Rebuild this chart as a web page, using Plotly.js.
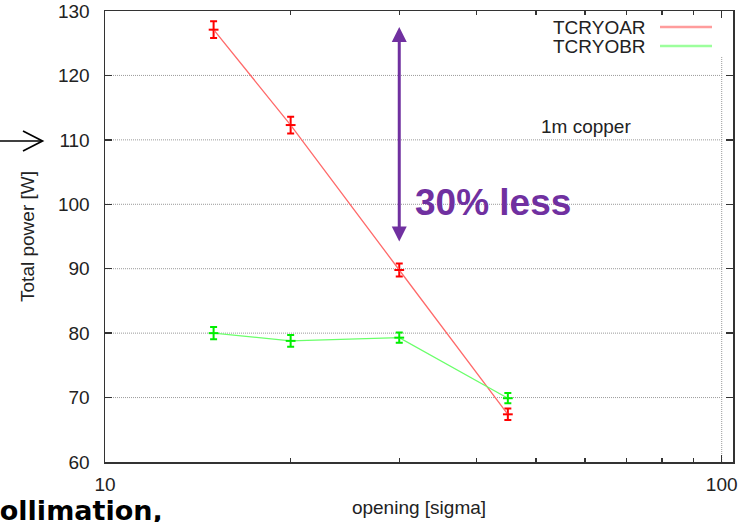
<!DOCTYPE html>
<html>
<head>
<meta charset="utf-8">
<script src="https://cdn.plot.ly/plotly-3.0.1.min.js"></script>
<style>
  html, body { margin: 0; padding: 0; background: #fff; }
  #chart { width: 755px; height: 522px; }
</style>
</head>
<body>
<div id="chart"></div>
<script>
// Collimator opening scan: total deposited power versus opening
const openings = [15, 20, 30, 45];              // opening [sigma]
const seriesNames = ['TCRYOAR', 'TCRYOBR'];
const tcryoarPower = [127.1, 112.3, 89.8, 67.4]; // Total power [W]
const tcryoarErr = [1.3, 1.3, 1.0, 0.9];
const tcryobrPower = [80.0, 78.8, 79.3, 69.9];
const tcryobrErr = [0.95, 0.9, 0.8, 0.8];

const xTickVals = [10, 100];
const xTickText = ['10', '100'];
const xMinorVals = [20, 30, 40, 50, 60, 70, 80, 90];
const yTickVals = [60, 70, 80, 90, 100, 110, 120, 130];

const reductionLabel = '30% less';
const reductionFrom = 127.5;
const reductionTo = 94;
const reductionAt = 30;
const noteLabel = '1m copper';

// frame geometry
const W = 755, H = 522;
const M = { l: 105, r: 22, t: 11, b: 60 };
const plotW = W - M.l - M.r, plotH = H - M.t - M.b;
const xLogRange = [1, 2.0183];
const yRange = [60, 130];
const px = x => (x - M.l) / plotW;               // page pixel -> paper x
const py = y => (M.t + plotH - y) / plotH;       // page pixel -> paper y
const paperOfX = v => (Math.log10(v) - xLogRange[0]) / (xLogRange[1] - xLogRange[0]);

const FONT = 'Liberation Sans, Arial, sans-serif';
const INK = '#333';
const TXT = '#222';
const redLine = '#ff6a6a', redBar = '#ff0000', redKey = '#ff9c9c';
const greenLine = '#6aff6a', greenBar = '#00ee00', greenKey = '#9cff9c';
const purple = '#7030a0';

function series(name, y, err, lineColor, barColor) {
  return {
    type: 'scatter', mode: 'lines+markers', name: name,
    x: openings, y: y,
    line: { color: lineColor, width: 1.3 },
    marker: { symbol: 'line-ew', size: 7, color: barColor, line: { color: barColor, width: 2 } },
    error_y: { type: 'data', array: err, visible: true, color: barColor, thickness: 2, width: 3.5 },
    showlegend: false, hoverinfo: 'x+y'
  };
}

const data = [
  series(seriesNames[0], tcryoarPower, tcryoarErr, redLine, redBar),
  series(seriesNames[1], tcryobrPower, tcryobrErr, greenLine, greenBar)
];

const gridDash = '1px,1px';
const shapes = [];
// horizontal grid at the inner y ticks, running up to x = 100
yTickVals.slice(1, -1).forEach(v => {
  shapes.push({ type: 'line', layer: 'below', xref: 'paper', yref: 'y',
    x0: 0, x1: paperOfX(100), y0: v, y1: v,
    line: { color: '#9a9a9a', width: 1, dash: gridDash } });
});
// vertical grid at x = 100, stopping under the key
shapes.push({ type: 'line', layer: 'below', xref: 'paper', yref: 'paper',
  x0: paperOfX(100), x1: paperOfX(100), y0: 0, y1: py(57),
  line: { color: '#9a9a9a', width: 1, dash: gridDash } });

// key: label on the left, line sample on the right
const keyColors = [redKey, greenKey];
const keyRows = [27, 46];
const annotations = [];
seriesNames.forEach((n, i) => {
  shapes.push({ type: 'line', xref: 'paper', yref: 'paper',
    x0: px(660), x1: px(712), y0: py(keyRows[i]), y1: py(keyRows[i]),
    line: { color: keyColors[i], width: 2.5 } });
  annotations.push({ xref: 'paper', yref: 'paper', x: px(648), y: py(keyRows[i]),
    xanchor: 'right', yanchor: 'middle', showarrow: false, text: n,
    font: { family: FONT, size: 19, color: TXT } });
});

// pointer arrow at the left edge
shapes.push({ type: 'line', xref: 'paper', yref: 'paper',
  x0: px(0), x1: px(42), y0: py(141), y1: py(141),
  line: { color: '#000', width: 1.7 } });
shapes.push({ type: 'path', xref: 'paper', yref: 'paper',
  path: `M${px(23)},${py(131)} L${px(42.5)},${py(141)} L${px(23)},${py(151)}`,
  line: { color: '#000', width: 1.7 } });

// double-headed arrow marking the reduction
annotations.push({
  xref: 'x', yref: 'y', axref: 'x', ayref: 'y',
  x: Math.log10(reductionAt), y: reductionFrom,
  ax: Math.log10(reductionAt), ay: reductionTo,
  text: '', showarrow: true, arrowside: 'end+start',
  arrowhead: 2, startarrowhead: 2, arrowsize: 1, startarrowsize: 1,
  arrowwidth: 3, arrowcolor: purple, standoff: 0, startstandoff: 0
});
annotations.push({
  xref: 'x', yref: 'y', x: 1.5, y: 100.3, xanchor: 'left', yanchor: 'middle',
  showarrow: false, text: '<b>' + reductionLabel + '</b>',
  font: { family: FONT, size: 37, color: purple }
});
annotations.push({
  xref: 'x', yref: 'y', x: Math.log10(60.3), y: 112.1, xanchor: 'center', yanchor: 'middle',
  showarrow: false, text: noteLabel,
  font: { family: FONT, size: 19, color: TXT }
});
// slide caption running off the lower-left corner
annotations.push({
  xref: 'paper', yref: 'paper', x: px(165), y: py(510), xanchor: 'right', yanchor: 'middle',
  showarrow: false, text: '<b>Collimation,</b>',
  font: { family: 'DejaVu Sans, Verdana, sans-serif', size: 27, color: '#000' }
});

const layout = {
  width: W, height: H,
  margin: M,
  paper_bgcolor: '#fff', plot_bgcolor: '#fff',
  font: { family: FONT, size: 19, color: TXT },
  showlegend: false,
  xaxis: {
    type: 'log', range: xLogRange, autorange: false,
    tickmode: 'array', tickvals: xTickVals, ticktext: xTickText,
    ticks: 'inside', ticklen: 7, tickwidth: 1.5, tickcolor: INK,
    minor: { tickmode: 'array', tickvals: xMinorVals, ticks: 'inside', ticklen: 4,
             tickwidth: 1.2, tickcolor: INK, showgrid: false },
    showline: true, linecolor: INK, linewidth: 1.5, mirror: 'ticks',
    showgrid: false, zeroline: false, ticklabelstandoff: 5,
    tickfont: { family: FONT, size: 19, color: TXT },
    title: { text: 'opening [sigma]', font: { family: FONT, size: 19, color: TXT }, standoff: 6 }
  },
  yaxis: {
    range: yRange, autorange: false,
    tickmode: 'array', tickvals: yTickVals,
    ticks: 'inside', ticklen: 7, tickwidth: 1.5, tickcolor: INK,
    showline: true, linecolor: INK, linewidth: 1.5, mirror: 'ticks',
    showgrid: false, zeroline: false, ticklabelstandoff: 10,
    tickfont: { family: FONT, size: 19, color: TXT },
    title: { text: 'Total power [W]', font: { family: FONT, size: 19, color: TXT }, standoff: 18 }
  },
  shapes: shapes,
  annotations: annotations
};

Plotly.newPlot('chart', data, layout, { staticPlot: true, displayModeBar: false });
</script>
</body>
</html>
